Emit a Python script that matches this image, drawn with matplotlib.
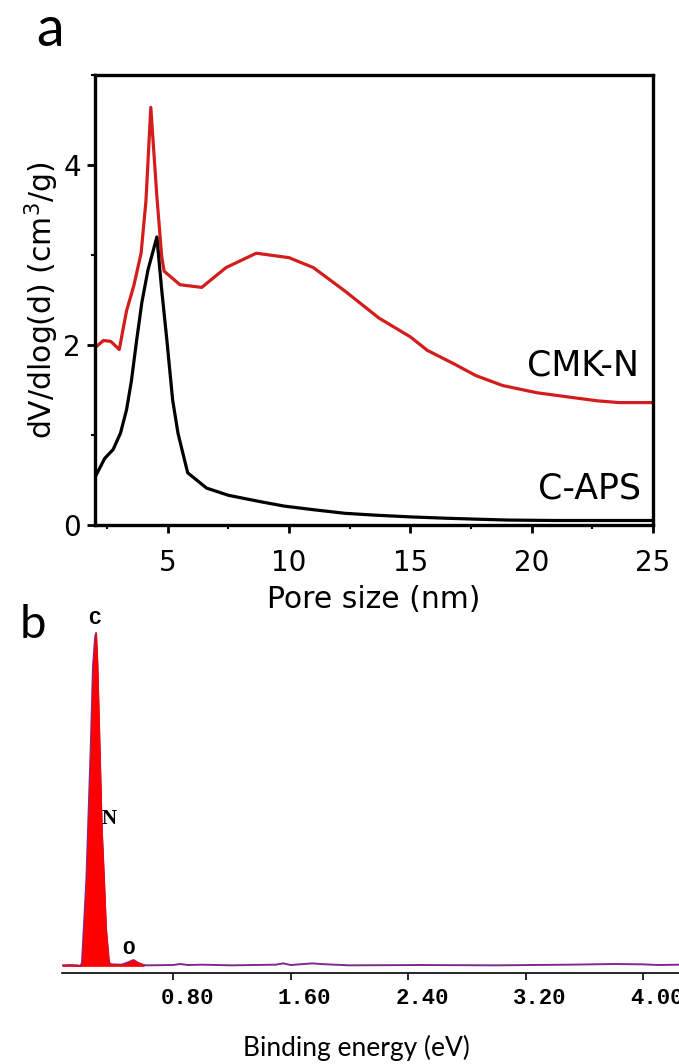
import numpy as np
import matplotlib
matplotlib.use("Agg")
import matplotlib.pyplot as plt
from matplotlib.ticker import MultipleLocator
from matplotlib.transforms import ScaledTranslation

plt.rcParams["font.family"] = ["DejaVu Sans"]

# ---- panel a: pore size distribution ----
cmk_x = [2.0, 2.35, 2.65, 3.0, 3.3, 3.6, 3.9, 4.1, 4.3, 4.55, 4.75, 4.85, 5.5, 6.4,
         7.4, 8.65, 10.0, 11.0, 12.3, 13.7, 15.0, 15.7, 16.8, 17.7, 18.8, 20.2,
         21.3, 22.7, 23.6, 25.0]
cmk_y = [1.97, 2.05, 2.04, 1.95, 2.38, 2.66, 3.02, 3.6, 4.64, 3.65, 2.98, 2.82,
         2.67, 2.64, 2.86, 3.02, 2.97, 2.86, 2.60, 2.30, 2.09, 1.94, 1.79, 1.66,
         1.55, 1.47, 1.43, 1.38, 1.36, 1.36]

aps_x = [2.0, 2.4, 2.75, 3.05, 3.3, 3.5, 3.72, 3.93, 4.18, 4.55, 4.75, 4.96, 5.2,
         5.42, 5.82, 6.6, 7.5, 8.8, 9.8, 11.0, 12.3, 13.5, 15.0, 16.5, 17.7, 19.0,
         21.0, 23.0, 25.0]
aps_y = [0.53, 0.74, 0.84, 1.02, 1.28, 1.6, 2.06, 2.47, 2.83, 3.2, 2.61, 2.06, 1.39,
         1.02, 0.58, 0.41, 0.33, 0.26, 0.21, 0.17, 0.13, 0.11, 0.09, 0.075, 0.065,
         0.055, 0.05, 0.05, 0.05]

# ---- panel b: EDS spectrum ----
eds_energy = [0.05, 0.10, 0.15, 0.17, 0.18, 0.21, 0.24, 0.255, 0.27, 0.276, 0.285,
              0.30, 0.315, 0.33, 0.344, 0.364, 0.38, 0.45, 0.50, 0.53, 0.56, 0.60,
              0.62, 0.80, 0.85, 0.90, 1.00, 1.20, 1.50, 1.55, 1.60, 1.75, 1.80,
              2.00, 2.50, 3.00, 3.50, 3.80, 4.00, 4.10, 4.25]
eds_counts = [0.002, 0.003, 0.002, 0.0, 0.01, 0.26, 0.66, 0.90, 0.99, 1.0, 0.91,
              0.66, 0.41, 0.26, 0.11, 0.01, 0.005, 0.004, 0.012, 0.018, 0.01, 0.003,
              0.002, 0.003, 0.006, 0.003, 0.004, 0.002, 0.004, 0.008, 0.003, 0.008,
              0.006, 0.002, 0.003, 0.002, 0.004, 0.006, 0.005, 0.003, 0.004]
eds_ticks = [0.8, 1.6, 2.4, 3.2, 4.0]
peak_names = ["C", "N", "O"]
peak_energy = [0.262, 0.364, 0.494]
peak_label_y = [1.042, 0.44, 0.054]

RED = "#d41c1c"
PURPLE = "#7e2a8c"

fig = plt.figure(figsize=(6.79, 10.64), dpi=100)

# panel b first so panel a's xlabel sits above it
bx = fig.add_axes([62 / 679, 1 - 973 / 1064, 617 / 679, 373 / 1064])
bx.patch.set_visible(False)
bx.plot(eds_energy, eds_counts, color=PURPLE, lw=1.4, zorder=2)
e = np.array(eds_energy)
c = np.array(eds_counts)
m = e <= 0.6
bx.fill_between(e[m], c[m], 0, color="red", lw=0.5, zorder=3)
bx.set_xlim(0.044, 4.244)
bx.set_ylim(-0.021, 1.099)
for side in ["top", "right", "left"]:
    bx.spines[side].set_visible(False)
bx.spines["bottom"].set_linewidth(1.2)
bx.set_yticks([])
bx.set_xticks(eds_ticks)
bx.set_xticklabels([f"{t:.2f}" for t in eds_ticks],
                   fontfamily="Liberation Mono", fontweight="bold", fontsize=16)
bx.tick_params(axis="x", direction="out", length=5, width=1.2, pad=6)
shift = ScaledTranslation(0.14, 0, fig.dpi_scale_trans)
for lab in bx.get_xticklabels():
    lab.set_transform(lab.get_transform() + shift)

for name, ex, ly in zip(peak_names, peak_energy, peak_label_y):
    fam = "Liberation Serif" if name == "N" else "Liberation Mono"
    bx.text(ex, ly, name, fontfamily=fam, fontweight="bold", fontsize=15,
            ha="center", va="center", zorder=4)

# panel a
ax = fig.add_axes([95 / 679, 1 - 525 / 1064, 558 / 679, 450 / 1064])
ax.plot(cmk_x, cmk_y, color=RED, lw=2.3)
ax.plot(aps_x, aps_y, color="black", lw=2.3)
ax.set_xlim(2, 25)
ax.set_ylim(0, 5)
ax.xaxis.set_major_locator(MultipleLocator(5))
ax.xaxis.set_minor_locator(MultipleLocator(2.5))
ax.yaxis.set_major_locator(MultipleLocator(2))
ax.yaxis.set_minor_locator(MultipleLocator(1))
for s in ax.spines.values():
    s.set_linewidth(2.4)
ax.tick_params(which="major", direction="out", length=6, width=2, labelsize=20)
ax.tick_params(which="minor", direction="out", length=3, width=1.5)
ax.tick_params(axis="x", which="major", pad=11)
ax.tick_params(axis="y", which="major", pad=4)
ax.set_xlabel("Pore size (nm)", fontsize=21.5, labelpad=6)
ax.set_ylabel("dV/dlog(d) (cm$^3$/g)", fontsize=21.5, labelpad=2)
ax.text(22.1, 1.77, "CMK-N", fontsize=25, ha="center", va="center")
ax.text(22.4, 0.41, "C-APS", fontsize=25, ha="center", va="center")

fig.text(50 / 679, 1 - 31 / 1064, "a", fontfamily="Lato", fontsize=40,
         ha="center", va="center")
fig.text(20 / 679, 1 - 638 / 1064, "b", fontfamily="Lato", fontsize=34,
         ha="left", va="baseline")
fig.text(356 / 679, 1 - 1048 / 1064, "Binding energy (eV)", fontfamily="Lato",
         fontsize=19, ha="center", va="center")

fig.savefig("out.png", dpi=100)
